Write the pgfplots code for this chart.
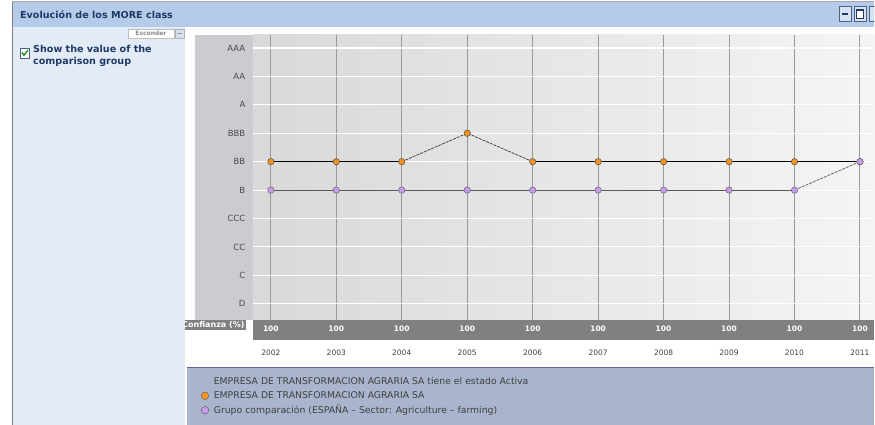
\documentclass[border=0pt]{standalone}
\usepackage{pgfplots}
\pgfplotsset{compat=1.18}
\usepackage{fontspec}
\setmainfont{DejaVu Sans}
\definecolor{titlebar}{HTML}{B4CBE9}
\definecolor{panel}{HTML}{E3EBF6}
\definecolor{labelcol}{HTML}{CBCCCF}
\definecolor{band}{HTML}{808080}
\definecolor{legbg}{HTML}{A8B5CD}
\definecolor{titletext}{HTML}{1E3A66}
\definecolor{morange}{HTML}{F7931E}
\definecolor{mpurple}{HTML}{C79AEB}
\definecolor{btn}{HTML}{D6E2F2}

\begin{document}
\begin{tikzpicture}
\begin{scope}[x=1pt,y=-1pt]
\path[use as bounding box] (0,0) rectangle (875,425);
\fill[white] (0,0) rectangle (875,425);
% window title bar
\fill[titlebar] (12,2) rectangle (875,27);
\draw[gray!70] (12,1.5) -- (875,1.5);
\node[anchor=west, inner sep=0pt, font=\fontsize{9.6}{11}\selectfont\bfseries, text=titletext] at (20,14.5) {Evolución de los MORE class};
\begin{scope}
\clip (0,0) rectangle (875,425);
\draw[fill=btn, draw=titletext!80] (840,6.5) rectangle (852,21.5);
\draw[titletext, line width=1.5pt] (843,14) -- (849,14);
\draw[fill=btn, draw=titletext!80] (855,6.5) rectangle (867,21.5);
\draw[titletext, line width=1pt, fill=white] (857.5,9.5) rectangle (864.5,18.5);
\draw[titletext, line width=2pt] (857.5,10) -- (864.5,10);
\draw[fill=btn, draw=titletext!80] (870,6.5) rectangle (882,21.5);
\end{scope}
% left panel
\fill[panel] (12,27) rectangle (185,425);
\draw[gray, line width=1pt] (12.5,2) -- (12.5,425);
\draw[fill=white, draw=gray!50] (128,29) rectangle (174,38);
\node[font=\fontsize{6}{6}\selectfont\bfseries, text=gray!90, inner sep=0pt] at (151,33.5) {Esconder};
\draw[fill=btn, draw=gray!60] (175,29) rectangle (184,38);
\draw[gray!80] (177,33.5) -- (182,33.5);
\draw[fill=white, draw=titletext!80] (20,48) rectangle (29.5,58);
\draw[green!55!black, line width=1.2pt] (21.8,52.5) -- (24,55.3) -- (28,50);
\node[anchor=north west, align=left, inner sep=0pt, font=\fontsize{9.6}{12}\selectfont\bfseries, text=titletext] at (33,45) {Show the value of the\\comparison group};
% chart areas
\fill[labelcol] (195,35) rectangle (253,320);
\fill[band] (253,320) rectangle (875,340);
\begin{scope}
\clip (185,319) rectangle (253,332);
\node[anchor=east, fill=band, text=white, inner sep=1.2pt, font=\fontsize{8}{8}\selectfont\bfseries] at (246,325) {Confianza (\%)};
\end{scope}
\fill[legbg] (187,367) rectangle (875,425);
\draw[gray!80!blue] (187,367.5) -- (875,367.5);
\end{scope}

\begin{axis}[
  at={(253pt,-320pt)}, anchor=south west,
  width=622pt, height=285pt, scale only axis,
  xmin=2001.725, xmax=2011.221,
  ymin=-0.563, ymax=9.457,
  axis line style={draw=none},
  major tick length=0pt,
  axis background/.style={left color=black!15, right color=black!4},
  xtick={2002,...,2011},
  xticklabels={
    {\textcolor{white}{\textbf{100}}\\[16pt]2002},
    {\textcolor{white}{\textbf{100}}\\[16pt]2003},
    {\textcolor{white}{\textbf{100}}\\[16pt]2004},
    {\textcolor{white}{\textbf{100}}\\[16pt]2005},
    {\textcolor{white}{\textbf{100}}\\[16pt]2006},
    {\textcolor{white}{\textbf{100}}\\[16pt]2007},
    {\textcolor{white}{\textbf{100}}\\[16pt]2008},
    {\textcolor{white}{\textbf{100}}\\[16pt]2009},
    {\textcolor{white}{\textbf{100}}\\[16pt]2010},
    {\textcolor{white}{\textbf{100}}\\[16pt]2011}},
  xticklabel style={align=center, anchor=north, yshift=-3pt, text=black!75,
    font=\fontsize{7.5}{8}\selectfont},
  ytick={0,...,9},
  yticklabels={D,C,CC,CCC,B,BB,BBB,A,AA,AAA},
  yticklabel style={anchor=east, xshift=-4pt, text=black!70,
    font=\fontsize{8.5}{9}\selectfont},
  xmajorgrids, ymajorgrids,
  x grid style={black!40, line width=0.9pt},
  y grid style={white, line width=1.1pt},
  clip=false,
  legend style={at={(-0.091,-0.196)}, anchor=north west, draw=none, fill=none,
    font=\fontsize{9.3}{10}\selectfont, text=black!75, row sep=1.2pt,
    column sep=3pt, inner sep=0pt, cells={anchor=west}},
  legend cell align=left,
]
% company rating
\addplot[forget plot, black, line width=0.8pt] coordinates {(2002,5)(2003,5)(2004,5)};
\addplot[forget plot, black!80, line width=0.7pt, dash pattern=on 3pt off 1pt] coordinates {(2004,5)(2005,6)(2006,5)};
\addplot[forget plot, black, line width=0.8pt] coordinates {(2006,5)(2007,5)(2008,5)(2009,5)(2010,5)(2011,5)};
% comparison group
\addplot[forget plot, black!65, line width=1pt] coordinates {(2002,4)(2003,4)(2004,4)(2005,4)(2006,4)(2007,4)(2008,4)(2009,4)(2010,4)};
\addplot[forget plot, black!55, line width=0.9pt, dash pattern=on 3pt off 1pt] coordinates {(2010,4)(2011,5)};
% markers
\addplot[forget plot, only marks, mark=*, mark size=3.2pt, mark options={fill=morange, draw=black!70, line width=0.5pt}]
  coordinates {(2002,5)(2003,5)(2004,5)(2005,6)(2006,5)(2007,5)(2008,5)(2009,5)(2010,5)(2011,5)};
\addplot[forget plot, only marks, mark=*, mark size=3.2pt, mark options={fill=mpurple, draw=black!60, line width=0.5pt}]
  coordinates {(2002,4)(2003,4)(2004,4)(2005,4)(2006,4)(2007,4)(2008,4)(2009,4)(2010,4)(2011,5)};
\addlegendimage{empty legend}
\addlegendentry{EMPRESA DE TRANSFORMACION AGRARIA SA tiene el estado Activa}
\addlegendimage{only marks, mark=*, mark size=3.8pt, mark options={fill=morange, draw=black!60, line width=0.5pt}}
\addlegendentry{EMPRESA DE TRANSFORMACION AGRARIA SA}
\addlegendimage{only marks, mark=*, mark size=3.8pt, mark options={fill=mpurple, draw=black!60, line width=0.5pt}}
\addlegendentry{Grupo comparación (ESPAÑA – Sector: Agriculture – farming)}
\end{axis}
\end{tikzpicture}
\end{document}
